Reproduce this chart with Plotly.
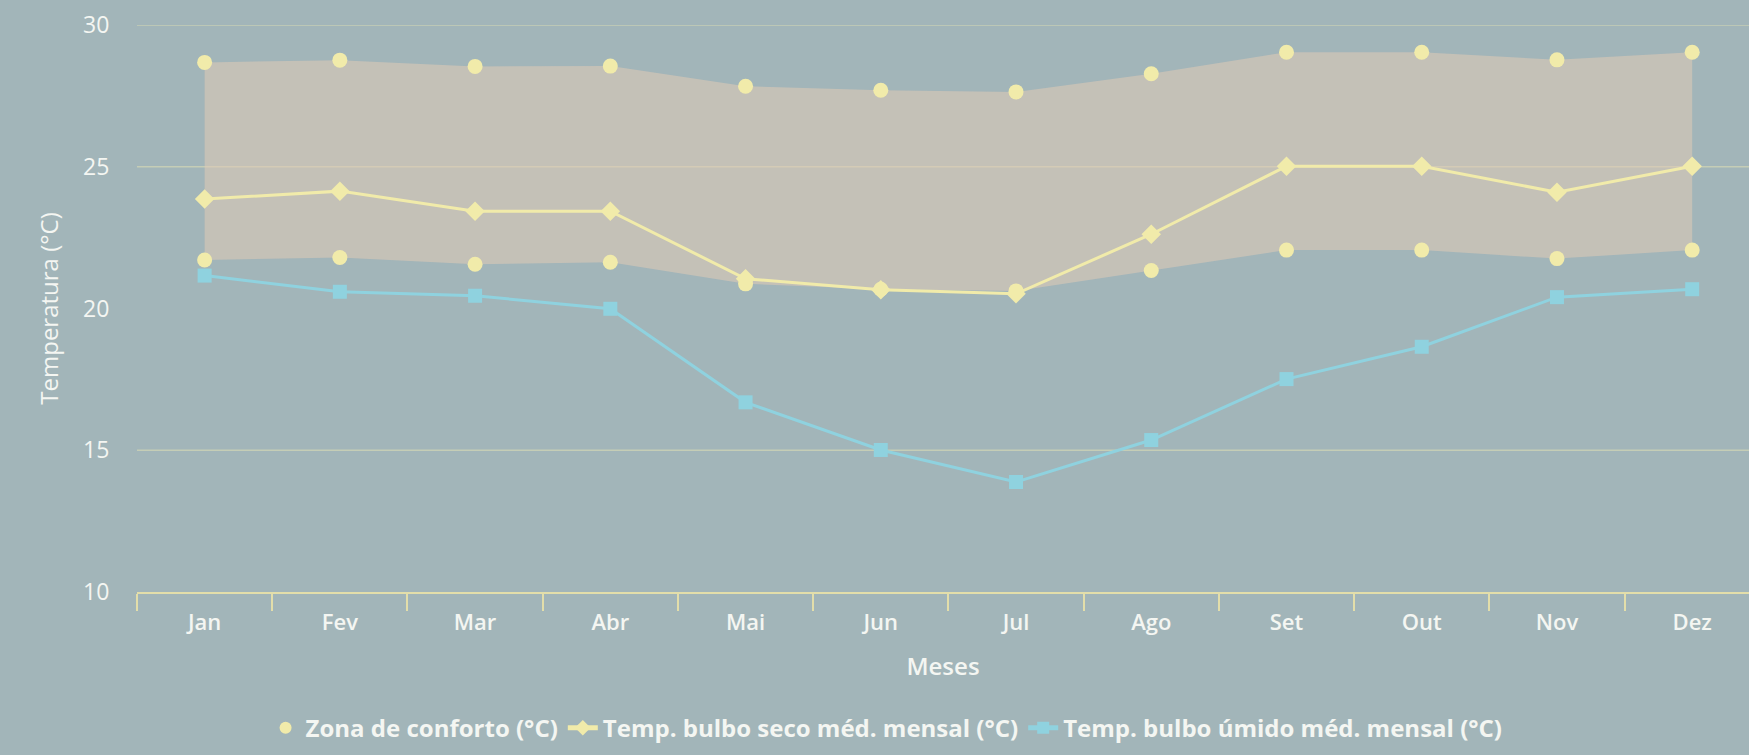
import plotly.graph_objects as go

months = ["Jan", "Fev", "Mar", "Abr", "Mai", "Jun", "Jul", "Ago", "Set", "Out", "Nov", "Dez"]
conforto_max = [28.68, 28.76, 28.54, 28.55, 27.84, 27.70, 27.64, 28.28, 29.04, 29.04, 28.77, 29.04]
conforto_min = [21.71, 21.80, 21.56, 21.63, 20.87, 20.68, 20.62, 21.34, 22.06, 22.06, 21.76, 22.06]
bulbo_seco = [23.86, 24.14, 23.43, 23.43, 21.05, 20.66, 20.52, 22.62, 25.02, 25.02, 24.10, 25.02]
bulbo_umido = [21.16, 20.59, 20.45, 19.99, 16.69, 15.01, 13.88, 15.36, 17.51, 18.65, 20.40, 20.68]
y_ticks = [10, 15, 20, 25, 30]
grid_lines = [15, 25, 30]

BG = "#a2b5b9"
YELLOW = "#f1ebaa"
BLUE = "#8fd2df"
TEXT = "#f4f6f2"
FONT = "Open Sans"

fig = go.Figure()

# comfort band (fill only)
fig.add_trace(go.Scatter(
    x=months, y=conforto_max, mode="lines",
    line=dict(color="rgba(0,0,0,0)", width=1),
    showlegend=False, hoverinfo="skip",
))
fig.add_trace(go.Scatter(
    x=months, y=conforto_min, mode="lines",
    line=dict(color="rgba(0,0,0,0)", width=1),
    fill="tonexty", fillcolor="rgba(224,202,182,0.55)",
    showlegend=False, hoverinfo="skip",
))
# comfort markers
fig.add_trace(go.Scatter(
    x=months + months, y=conforto_max + conforto_min, mode="markers",
    marker=dict(symbol="circle", size=15, color=YELLOW),
    name="Zona de conforto (°C)",
))
fig.add_trace(go.Scatter(
    x=months, y=bulbo_seco, mode="lines+markers",
    line=dict(color=YELLOW, width=3),
    marker=dict(symbol="diamond", size=15, color=YELLOW),
    name="Temp. bulbo seco méd. mensal (°C)",
))
fig.add_trace(go.Scatter(
    x=months, y=bulbo_umido, mode="lines+markers",
    line=dict(color=BLUE, width=3),
    marker=dict(symbol="square", size=14, color=BLUE),
    name="Temp. bulbo úmido méd. mensal (°C)",
))

for g in grid_lines:
    fig.add_shape(type="line", xref="paper", x0=0, x1=1, yref="y", y0=g, y1=g,
                  line=dict(color="rgba(240,234,180,0.45)", width=1.5), layer="below")

fig.update_layout(
    width=1749, height=755,
    paper_bgcolor=BG, plot_bgcolor=BG,
    margin=dict(l=137, r=0, t=25, b=163),
    font=dict(family=FONT, color=TEXT, size=20),
    showlegend=True,
    legend=dict(
        orientation="h", traceorder="normal",
        x=0.465, xanchor="center", y=-0.24, yanchor="middle",
        font=dict(family=FONT, size=24, color=TEXT, weight="bold"),
        bgcolor="rgba(0,0,0,0)", itemsizing="constant",
    ),
    xaxis=dict(
        type="category", range=[-0.5, 11.42],
        showgrid=False, zeroline=False,
        showline=True, linecolor="#e3deaa", linewidth=2,
        ticks="outside", tickson="boundaries", ticklen=17, tickcolor="#e3deaa", tickwidth=1.5,
        ticklabelstandoff=10,
        tickfont=dict(family=FONT, size=22, color=TEXT, weight=600),
        title=dict(text="Meses", font=dict(family=FONT, size=24, color=TEXT, weight=600), standoff=23),
    ),
    yaxis=dict(
        range=[10, 30], tickvals=y_ticks,
        showgrid=False, zeroline=False, showline=False,
        ticks="outside", ticklen=22, tickcolor="rgba(0,0,0,0)",
        tickfont=dict(family=FONT, size=23, color=TEXT),
        title=dict(text="Temperatura (°C)", font=dict(family=FONT, size=24, color=TEXT), standoff=17),
    ),
)

fig.write_html(
    "out.html",
    config={"displayModeBar": False},
    post_script="document.body.style.margin='0';document.body.style.background='" + BG + "';",
)
